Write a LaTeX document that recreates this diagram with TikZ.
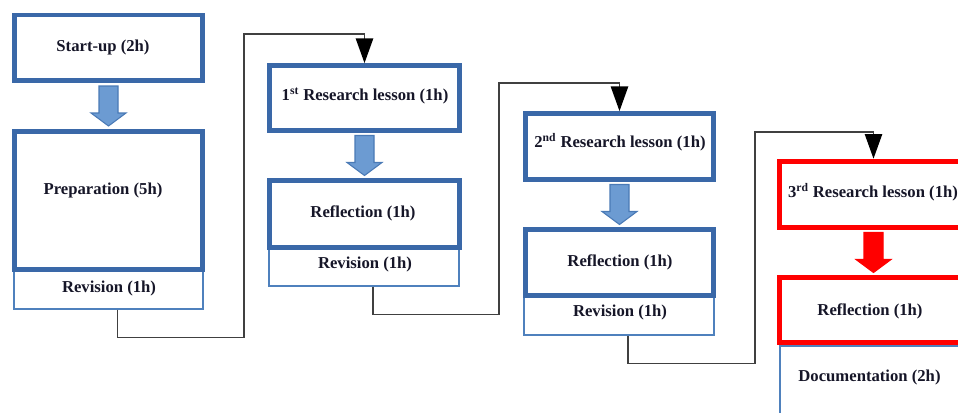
\documentclass[tikz,border=0pt]{standalone}
\usepackage{fontspec}
\setmainfont{Liberation Serif}
\usetikzlibrary{arrows.meta,calc}
\definecolor{boxblue}{RGB}{58,104,168}
\definecolor{thinblue}{RGB}{79,129,189}
\definecolor{arrowfill}{RGB}{108,155,210}
\definecolor{arrowline}{RGB}{74,122,182}
\definecolor{txt}{RGB}{22,22,40}
\definecolor{conncol}{RGB}{64,64,64}
\begin{document}
\begin{tikzpicture}[x=0.75pt,y=-0.75pt,
  every node/.style={inner sep=0pt},
  stage/.style={draw=boxblue,line width=3.6pt,fill=white,rectangle},
  redstage/.style={draw=red,line width=4.2pt,fill=white,rectangle},
  subbox/.style={draw=thinblue,line width=0.9pt,fill=white,rectangle},
  lbl/.style={font=\bfseries\fontsize{12.5}{14}\selectfont,text=txt},
  conn/.style={draw=conncol,line width=1.1pt,
    -{Triangle[width=13pt,length=18.5pt,color=black,fill=black]}},
  pics/downarrow/.style={code={%
    \draw[#1] (-9.5,-20) -- (9.5,-20) -- (9.5,7) -- (17.5,7) -- (0,20)
      -- (-17.5,7) -- (-9.5,7) -- cycle;}},
  bluearrow/.style={fill=arrowfill,draw=arrowline,line width=0.8pt},
  redarrow/.style={fill=red,draw=red,line width=0.8pt}
]
\clip (0,0) rectangle (958,412);
\fill[white] (0,0) rectangle (958,412);

% column 1
\node[subbox,minimum width=141.75pt,minimum height=29.25pt] (rev1) at (108.5,289.5) {};
\node[stage,minimum width=141pt,minimum height=49.125pt] (start) at (108.5,47.75) {};
\node[stage,minimum width=141pt,minimum height=103.5pt] (prep) at (108.5,200.5) {};
\pic at ($(start.south)!0.5!(prep.north)$) {downarrow=bluearrow};
\node[lbl] (tstart) at (103,47) {Start-up (2h)};
\node[lbl] (tprep) at (103,190) {Preparation (5h)};
\node[lbl] (trev1) at (109,288) {Revision (1h)};

% column 2
\node[subbox,minimum width=142.5pt,minimum height=28.5pt] (rev2) at (364,267) {};
\node[stage,minimum width=142.5pt,minimum height=48.75pt] (res1) at (364.5,98) {};
\node[stage,minimum width=142.5pt,minimum height=50.25pt] (ref1) at (364.5,214) {};
\pic at ($(res1.south)!0.5!(ref1.north)$) {downarrow=bluearrow};
\node[lbl] (tres1) at (365,96) {1\textsuperscript{st} Research lesson (1h)};
\node[lbl] (tref1) at (363,213) {Reflection (1h)};
\node[lbl] (trev2) at (365,264) {Revision (1h)};

% column 3
\node[subbox,minimum width=142.5pt,minimum height=29.25pt] (rev3) at (619,315.5) {};
\node[stage,minimum width=141pt,minimum height=49.5pt] (res2) at (619.5,146.5) {};
\node[stage,minimum width=141pt,minimum height=49.5pt] (ref2) at (619.5,262.5) {};
\pic at ($(res2.south)!0.5!(ref2.north)$) {downarrow=bluearrow};
\node[lbl] (tres2) at (620,142) {2\textsuperscript{nd} Research lesson (1h)};
\node[lbl] (tref2) at (620,262) {Reflection (1h)};
\node[lbl] (trev3) at (620,312) {Revision (1h)};

% column 4
\node[subbox,minimum width=142.5pt,minimum height=70.5pt] (doc) at (875,393) {};
\node[redstage,minimum width=141pt,minimum height=49.5pt] (res3) at (873.5,194.5) {};
\node[redstage,minimum width=141pt,minimum height=48.75pt] (ref3) at (873.5,310) {};
\pic at ($(res3.south)!0.5!(ref3.north)$) {downarrow=redarrow};
\node[lbl] (tres3) at (873,192) {3\textsuperscript{rd} Research lesson (1h)};
\node[lbl] (tref3) at (870,311) {Reflection (1h)};
\node[lbl] (tdoc) at (869.5,377) {Documentation (2h)};

% connectors between the cycles
\coordinate (k1) at (244,34);
\coordinate (k2) at (499,83);
\coordinate (k3) at (755,132);
\draw[conn] ([xshift=6.75pt]rev1.south) -- ++(0,28) -| (k1) -| (res1.north);
\draw[conn] ([xshift=6.75pt]rev2.south) -- ++(0,28) -| (k2) -| (res2.north);
\draw[conn] ([xshift=6.75pt]rev3.south) -- ++(0,28) -| (k3) -| (res3.north);
\end{tikzpicture}
\end{document}
